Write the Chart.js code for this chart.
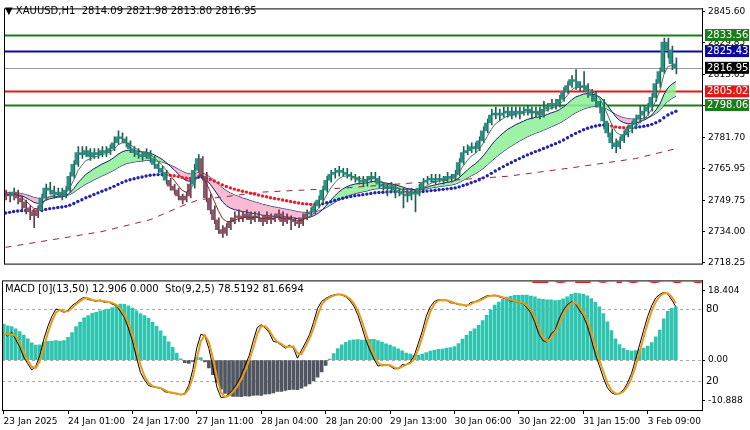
<!DOCTYPE html>
<html lang="en">
<head>
<meta charset="UTF-8" />
<title>XAUUSD H1</title>
<script src="https://cdn.jsdelivr.net/npm/chart.js"></script>
<style>
  body { margin: 0; background: #fff; font-family: "DejaVu Sans", Arial, sans-serif; }
  #wrap { position: relative; width: 750px; height: 430px; }
  #main { position: absolute; left: 0; top: 0; }
  #sub { position: absolute; left: 0; top: 272px; }
</style>
</head>
<body>
<div id="wrap">
  <canvas id="main" width="750" height="272"></canvas>
  <canvas id="sub" width="750" height="158"></canvas>
</div>
<script>
// H1 closes, one per bar
const closes = [
  2753,2752,2754,2751,2749, 2746,2744,2742,2745, 2751,2756, 2755,2753,2754,2752,2755,
  2762,2768,2774, 2773,2775,2772,2774,2773,2775,2774,2776, 2779,2782,2781,2779, 2776,2774,
  2773,2772,2774,2771, 2768,2766,2764,2760, 2757,2755,2752,2750,2752, 2758,2765,2771,
  2762,2751,2745,2740, 2735,2733,2736, 2739,2741,
  2742,2741,2743,2740,2742,2741,2739,2742,2740,2741,2743,2739,2741,2740,
  2739,2738, 2741,2743,2744, 2747,2750, 2755,2760,2763,2764, 2765,2764,2763,2762,
  2761,2760,2759,2760, 2762,2761,2758, 2757,2756,2757,2755,2754, 2753,2752,2754,2753,2756,
  2759,2760, 2761,2760,2761,2760,2762,2761,2763, 2769,2774, 2775,2777,2776,2780,
  2785,2789, 2793,2794,2793, 2794,2795,2793,2795,2794, 2795,2796,2794,2795,2793,2796,
  2797,2799,2798,2801, 2805,2808, 2811,2810,2807, 2808,2805, 2803,2800,2797, 2790,2784,
  2779,2777,2780, 2783,2786,2788,2791, 2793,2795,2797,2802, 2809,2815, 2830,2826, 2819,2816.95
];
const highs = [
  2755,2754,2756,2755,2752, 2750,2747,2745,2747, 2753,2758, 2759,2757,2756,2756,2757,
  2764,2770,2777, 2777,2777,2776,2776,2776,2777,2777,2778, 2782,2785,2784,2782, 2780,2777,
  2776,2774,2776,2775, 2772,2769,2767,2765, 2761,2758,2756,2753,2754, 2760,2768,2773,
  2772,2764,2753,2747, 2741,2737,2738, 2741,2744,
  2745,2744,2745,2744,2744,2744,2742,2744,2743,2743,2745,2744,2743,2742,
  2741,2741, 2743,2745,2746, 2749,2752, 2757,2762,2765,2766, 2767,2766,2766,2764,
  2763,2762,2762,2762, 2764,2764,2762, 2759,2758,2759,2758,2756, 2756,2755,2756,2755,2758,
  2761,2762, 2763,2763,2763,2762,2764,2763,2765, 2771,2777, 2778,2779,2779,2782,
  2787,2791, 2796,2797,2796, 2797,2797,2797,2797,2797, 2797,2798,2797,2797,2797,2800,
  2799,2801,2801,2803, 2807,2810, 2813,2816,2810, 2815,2809, 2806,2805,2800, 2801,2789,
  2786,2781,2782, 2785,2788,2790,2793, 2798,2798,2799,2804, 2811,2817, 2832,2832, 2828,2821.98
];
const lows = [
  2750,2749,2750,2748,2745, 2743,2740,2736,2741, 2744,2750, 2753,2751,2752,2750,2751,
  2754,2761,2767, 2771,2772,2770,2771,2771,2772,2772,2773, 2775,2778,2779,2777, 2774,2772,
  2771,2770,2771,2769, 2766,2764,2762,2758, 2755,2753,2750,2748,2749, 2751,2756,2764,
  2760,2749,2743,2738, 2733,2731,2732, 2735,2738,
  2739,2739,2740,2738,2739,2739,2737,2738,2738,2739,2740,2737,2738,2735,
  2737,2736, 2737,2740,2742, 2743,2746, 2749,2754,2759,2761, 2762,2762,2761,2760,
  2759,2758,2757,2757, 2759,2759,2756, 2755,2752,2754,2751,2752, 2746,2749,2750,2744,2752,
  2755,2758, 2759,2758,2759,2758,2759,2759,2760, 2762,2768, 2773,2774,2774,2775,
  2779,2784, 2788,2791,2790, 2792,2792,2791,2792,2791, 2793,2793,2791,2792,2791,2792,
  2795,2796,2796,2797, 2800,2804, 2807,2806,2805, 2805,2802, 2800,2797,2794, 2786,2782,
  2776,2774,2776, 2779,2782,2784,2786, 2789,2791,2793,2795, 2800,2807, 2814,2822, 2816,2813.80
];
const firstOpen = 2752;

// long dashed average, read at a few bars
const longMaBars = [0, 12, 24, 36, 44, 48, 64, 84, 104, 125, 140, 157, 167];
const longMaVals = [2726, 2730, 2734, 2740, 2747, 2750, 2754, 2756, 2759, 2762, 2766, 2771, 2776];

const levelVals = [2833.56, 2825.43, 2816.95, 2805.02, 2798.06];
const levelColors = ['#1d7a1d', '#0a0aa0', '#9a9a9a', '#e01818', '#1d7a1d'];
const levelBoxes = ['#1d7a1d', '#0a0aa0', '#000000', '#e01818', '#1d7a1d'];

const priceTicks = [2845.60, 2829.85, 2813.65, 2797.70, 2781.70, 2765.95, 2749.75, 2734.00, 2718.25];

const timeTickBars = [0, 16, 32, 48, 64, 80, 96, 112, 128, 144, 160];
const timeTickLabels = ['23 Jan 2025', '24 Jan 01:00', '24 Jan 17:00', '27 Jan 11:00', '28 Jan 04:00',
  '28 Jan 20:00', '29 Jan 13:00', '30 Jan 06:00', '30 Jan 22:00', '31 Jan 15:00', '3 Feb 09:00'];

const opens = closes.map((c, i) => i === 0 ? firstOpen : closes[i - 1]);

function ema(src, n, seed) {
  const k = 2 / (n + 1);
  const out = [];
  let v = seed;
  src.forEach(x => { v = v + k * (x - v); out.push(v); });
  return out;
}

const emaThin = ema(closes, 5, 2753);
const emaFast = ema(closes, 12, 2753);
const emaSlow = ema(closes, 26, 2754);
const ema50 = ema(closes, 50, 2743);
const macd13 = ema(closes, 13, 2753);
const macdHist = macd13.map((v, i) => v - ema50[i]);

// stochastic: %K 9, %D 2, slowing 5
const kLine = closes.map((c, i) => {
  let num = 0, den = 0;
  for (let s = 0; s < 5; s++) {
    const j = Math.max(0, i - s);
    const from = Math.max(0, j - 8);
    const hh = Math.max(...highs.slice(from, j + 1));
    const ll = Math.min(...lows.slice(from, j + 1));
    num += closes[j] - ll; den += hh - ll;
  }
  return den ? num / den * 100 : 50;
});
const dLine = kLine.map((v, i) => i === 0 ? v : (v + kLine[i - 1]) / 2);

const xy = arr => arr.map((v, i) => ({ x: i, y: v }));
const teal = '#2f8f82', tealDark = '#1d5f56', mauve = '#8a5868', mauveDark = '#633848';
const isDown = i => emaFast[i] < emaSlow[i] && closes[i] < emaSlow[i] && i < 110;

const fontSmall = { family: 'DejaVu Sans', size: 9 };
const X_MIN = -0.4, X_MAX = 173.5;

const framePlugin = {
  id: 'frame',
  afterDraw(chart) {
    const { ctx, chartArea: a } = chart;
    ctx.save();
    ctx.strokeStyle = '#000'; ctx.lineWidth = 1;
    ctx.strokeRect(a.left + 0.5, a.top + 0.5, a.right - a.left, a.bottom - a.top);
    ctx.restore();
  }
};

const levelPlugin = {
  id: 'levels',
  beforeDatasetsDraw(chart) {
    const { ctx, chartArea: a, scales: { y } } = chart;
    ctx.save();
    levelVals.forEach((v, i) => {
      const py = Math.round(y.getPixelForValue(v)) + 0.5;
      ctx.strokeStyle = levelColors[i];
      ctx.lineWidth = i === 2 ? 1 : 2;
      ctx.beginPath(); ctx.moveTo(a.left, py); ctx.lineTo(a.right, py); ctx.stroke();
    });
    ctx.restore();
  },
  afterDraw(chart) {
    const { ctx, chartArea: a, scales: { y } } = chart;
    ctx.save();
    ctx.font = '10px "DejaVu Sans"';
    ctx.textBaseline = 'middle';
    levelVals.forEach((v, i) => {
      const py = y.getPixelForValue(v);
      ctx.fillStyle = levelBoxes[i];
      ctx.fillRect(a.right + 3, py - 6, 44, 12);
      ctx.fillStyle = '#fff';
      ctx.fillText(v.toFixed(2), a.right + 5, py + 0.5);
    });
    ctx.fillStyle = '#000';
    ctx.font = '10px "DejaVu Sans"';
    ctx.fillText('\u25BC XAUUSD,H1  2814.09 2821.98 2813.80 2816.95', 5, 11);
    ctx.restore();
  }
};

new Chart(document.getElementById('main'), {
  type: 'bar',
  data: {
    datasets: [
      { type: 'line', data: xy(emaSlow), borderColor: '#1a1a70', borderWidth: 1, pointRadius: 0, order: 20 },
      { type: 'line', data: xy(emaFast), borderColor: '#1a1a70', borderWidth: 1, pointRadius: 0, order: 19,
        fill: { target: 0, above: 'rgba(140,240,150,0.85)', below: 'rgba(245,170,200,0.8)' } },
      { type: 'line', data: longMaBars.map((b, i) => ({ x: b, y: longMaVals[i] })), borderColor: '#a0203a',
        borderWidth: 1, borderDash: [6, 6], pointRadius: 0, order: 18 },
      { type: 'line', data: xy(ema50), showLine: false, pointRadius: 1.7, pointBorderWidth: 0, order: 17,
        pointBackgroundColor: c => (c.dataIndex > 0 && ema50[c.dataIndex] < ema50[c.dataIndex - 1]) ? '#e8202a' : '#2424a8' },
      { data: closes.map((c, i) => ({ x: i, y: [lows[i], highs[i]] })), barThickness: 1, order: 5,
        backgroundColor: c => isDown(c.dataIndex) ? mauveDark : tealDark },
      { data: closes.map((c, i) => ({ x: i, y: [opens[i], c === opens[i] ? c + 0.3 : c] })), barThickness: 3, order: 4,
        backgroundColor: c => isDown(c.dataIndex) ? mauve : teal },
      { type: 'line', data: xy(emaThin), borderWidth: 1, pointRadius: 0, order: 3,
        segment: { borderColor: s => isDown(s.p1DataIndex) ? '#8a2020' : '#3c7a5c' } }
    ]
  },
  options: {
    responsive: false, animation: false, devicePixelRatio: 1,
    layout: { padding: { left: 2, top: 2, bottom: 2, right: 0 } },
    plugins: { legend: { display: false }, tooltip: { enabled: false } },
    scales: {
      x: { type: 'linear', min: X_MIN, max: X_MAX, offset: false, display: false },
      y: {
        position: 'right', min: 2717.77, max: 2847.05,
        afterFit: s => { s.width = 48; },
        afterBuildTicks: s => { s.ticks = priceTicks.map(v => ({ value: v })); },
        ticks: { callback: v => v.toFixed(2), color: '#000', font: fontSmall, padding: 3 },
        grid: { drawOnChartArea: false, tickLength: 3, color: '#000' },
        border: { color: '#000' }
      }
    }
  },
  plugins: [framePlugin, levelPlugin]
});

const subPlugin = {
  id: 'subtext',
  beforeDatasetsDraw(chart) {
    const { ctx, chartArea: a, scales } = chart;
    ctx.save();
    ctx.strokeStyle = '#aaa'; ctx.setLineDash([3, 3]); ctx.lineWidth = 1;
    [80, 20].forEach(v => {
      const py = Math.round(scales.sto.getPixelForValue(v)) + 0.5;
      ctx.beginPath(); ctx.moveTo(a.left, py); ctx.lineTo(a.right, py); ctx.stroke();
    });
    const p0 = Math.round(scales.y.getPixelForValue(0)) + 0.5;
    ctx.beginPath(); ctx.moveTo(a.left, p0); ctx.lineTo(a.right, p0); ctx.stroke();
    ctx.restore();
  },
  afterDraw(chart) {
    const { ctx, chartArea: a, scales } = chart;
    ctx.save();
    ctx.font = '10px "DejaVu Sans"';
    ctx.fillStyle = '#000';
    ctx.textBaseline = 'middle';
    ['80', '20'].forEach(t => ctx.fillText(t, a.right + 4, scales.sto.getPixelForValue(+t)));
    ctx.fillText('MACD [0](13,50) 12.906 0.000  Sto(9,2,5) 78.5192 81.6694', 5, a.top + 9);
    ctx.beginPath(); ctx.rect(a.left + 1, a.top + 1, a.right - a.left - 1, 20); ctx.clip();
    ctx.fillStyle = '#e01818';
    ctx.font = 'bold 30px "DejaVu Sans"';
    ctx.textBaseline = 'alphabetic';
    ctx.fillText('2816.9500', 530, a.top + 3);
    ctx.restore();
  }
};

new Chart(document.getElementById('sub'), {
  type: 'bar',
  data: {
    datasets: [
      { type: 'line', data: xy(kLine), yAxisID: 'sto', borderColor: '#000', borderWidth: 1, pointRadius: 0, order: 2 },
      { type: 'line', data: xy(dLine), yAxisID: 'sto', borderColor: '#e89a1a', borderWidth: 2, pointRadius: 0, order: 1 },
      { data: xy(macdHist), yAxisID: 'y', barThickness: 3, order: 5,
        backgroundColor: c => c.raw.y >= 0 ? '#2ec4b0' : '#4f5660' }
    ]
  },
  options: {
    responsive: false, animation: false, devicePixelRatio: 1,
    layout: { padding: { left: 2, top: 3, right: 0, bottom: 0 } },
    plugins: { legend: { display: false }, tooltip: { enabled: false } },
    scales: {
      x: {
        type: 'linear', min: X_MIN, max: X_MAX, offset: false,
        afterFit: s => { s.height = 20; },
        afterBuildTicks: s => { s.ticks = timeTickBars.map(v => ({ value: v })); },
        ticks: { callback: v => timeTickLabels[timeTickBars.indexOf(v)], align: 'start', maxRotation: 0,
          autoSkip: false, color: '#000', font: fontSmall, padding: 2 },
        grid: { drawOnChartArea: false, tickLength: 4, color: '#000', offset: false },
        border: { color: '#000' }
      },
      y: {
        position: 'right', min: -13.29, max: 21.21,
        afterFit: s => { s.width = 48; },
        afterBuildTicks: s => { s.ticks = [18.404, 0, -10.888].map(v => ({ value: v })); },
        ticks: { callback: v => v === 0 ? '0.00' : String(v), color: '#000', font: fontSmall, padding: 3 },
        grid: { drawOnChartArea: false, tickLength: 3, color: '#000' },
        border: { color: '#000' }
      },
      sto: { display: false, min: -4, max: 104 }
    }
  },
  plugins: [framePlugin, subPlugin]
});
</script>
</body>
</html>
